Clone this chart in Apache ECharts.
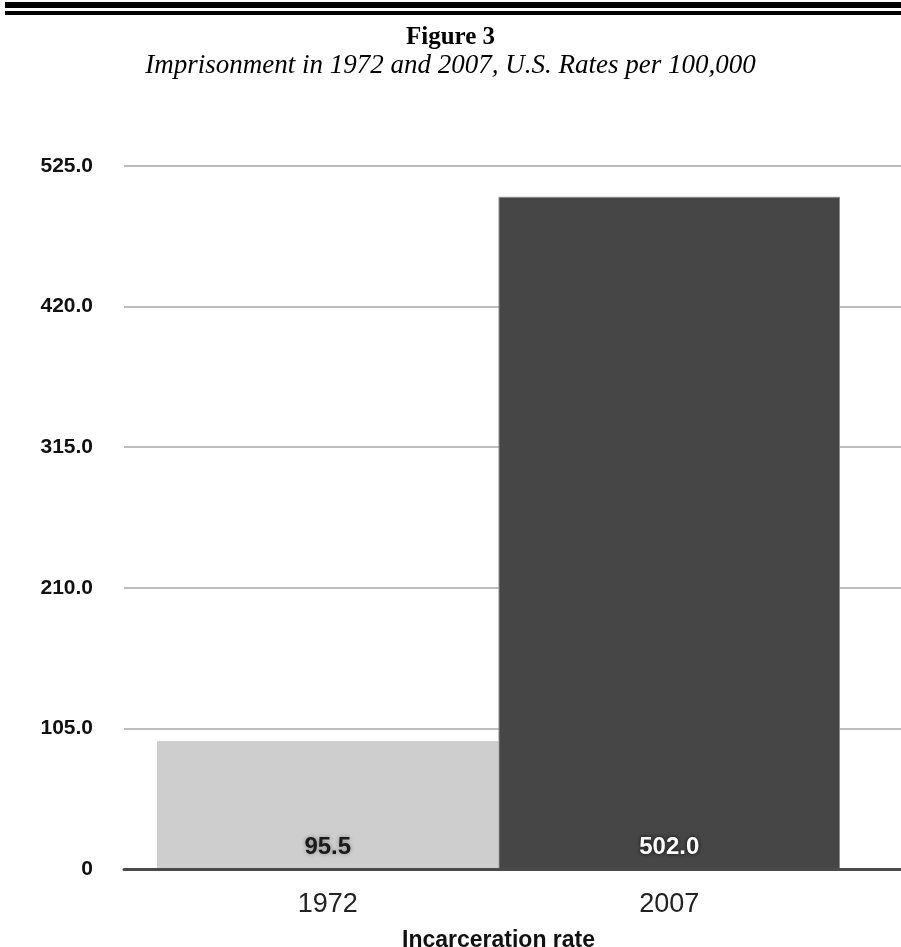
<!DOCTYPE html>
<html>
<head>
<meta charset="utf-8">
<script src="https://cdn.jsdelivr.net/npm/echarts@6/dist/echarts.min.js"></script>
<style>
  html, body { margin: 0; padding: 0; background: #fff; }
  #chart { width: 901px; height: 947px; }
</style>
</head>
<body>
<div id="chart"></div>
<script>
// data
var categories = ['1972', '2007'];
var rates = [95.5, 502.0];
var barColors = ['#cecece', '#464646'];
var barBorders = ['#cecece', '#8a8a8a'];
var labelColors = ['#1a1a1a', '#ffffff'];
var yMin = 0, yMax = 525, yStep = 105;

var myChart = echarts.init(document.getElementById('chart'));

var option = {
  backgroundColor: '#fff',
  animation: false,
  title: [
    {
      text: 'Figure 3',
      left: 'center',
      top: 20,
      textStyle: { fontFamily: 'Liberation Serif', fontWeight: 'bold', fontSize: 25, color: '#000' }
    },
    {
      text: 'Imprisonment in 1972 and 2007, U.S. Rates per 100,000',
      left: 'center',
      top: 47,
      textStyle: { fontFamily: 'Liberation Serif', fontStyle: 'italic', fontWeight: 'normal', fontSize: 27, color: '#000' }
    }
  ],
  // double rule at the top of the page
  graphic: [
    { type: 'rect', shape: { x: 5, y: 2, width: 896, height: 6 }, style: { fill: '#000' } },
    { type: 'rect', shape: { x: 5, y: 11, width: 896, height: 4 }, style: { fill: '#000' } }
  ],
  grid: [
    // gridlines + baseline
    { left: 124, right: 0, top: 166, bottom: 78, containLabel: false, outerBoundsMode: 'none' },
    // bars
    { left: 157, right: 61, top: 166, bottom: 78, containLabel: false, outerBoundsMode: 'none' }
  ],
  xAxis: [
    {
      gridIndex: 0,
      type: 'category',
      data: [''],
      z: 10,
      axisLine: { lineStyle: { color: '#4a4a4a', width: 3 } },
      axisTick: { show: false },
      axisLabel: { show: false }
    },
    {
      gridIndex: 1,
      type: 'category',
      data: categories,
      axisLine: { show: false },
      axisTick: { show: false },
      axisLabel: { fontFamily: 'Liberation Sans', fontSize: 27, color: '#222', margin: 22 },
      name: 'Incarceration rate',
      nameLocation: 'middle',
      nameGap: 60,
      nameTextStyle: { fontFamily: 'Liberation Sans', fontWeight: 'bold', fontSize: 23, color: '#111' }
    }
  ],
  yAxis: [
    {
      gridIndex: 0,
      type: 'value',
      min: yMin,
      max: yMax,
      interval: yStep,
      axisLine: { show: false },
      axisTick: { show: false },
      splitLine: { lineStyle: { color: '#bdbdbd', width: 2 } },
      axisLabel: {
        margin: 31,
        fontFamily: 'Liberation Sans',
        fontWeight: 'bold',
        fontSize: 21,
        color: '#111',
        formatter: function (v) { return v === 0 ? '0' : v.toFixed(1); }
      }
    },
    {
      gridIndex: 1,
      type: 'value',
      min: yMin,
      max: yMax,
      interval: yStep,
      show: false
    }
  ],
  series: [
    {
      type: 'bar',
      xAxisIndex: 1,
      yAxisIndex: 1,
      barCategoryGap: '0%',
      data: rates.map(function (v, i) {
        return {
          value: v,
          itemStyle: { color: barColors[i], borderColor: barBorders[i], borderWidth: 1 },
          label: { color: labelColors[i], textShadowColor: i ? 'rgba(0,0,0,0.8)' : 'rgba(0,0,0,0.35)' }
        };
      }),
      label: {
        show: true,
        position: 'insideBottom',
        distance: 10,
        fontFamily: 'Liberation Sans',
        fontWeight: 'bold',
        fontSize: 24,
        textShadowBlur: 4,
        formatter: function (p) { return p.value.toFixed(1); }
      }
    }
  ]
};

myChart.setOption(option);
</script>
</body>
</html>
